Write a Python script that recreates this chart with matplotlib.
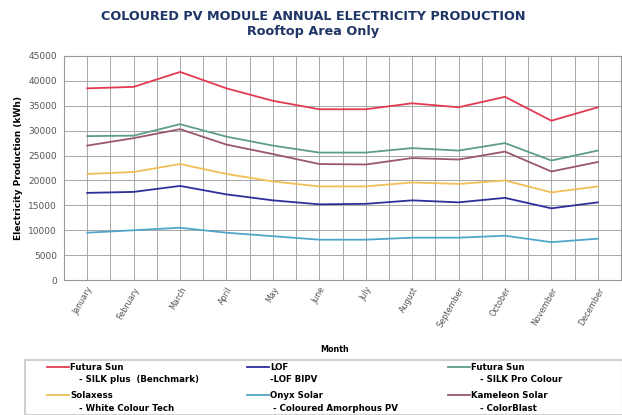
import matplotlib.pyplot as plt
from matplotlib.patches import Rectangle
from matplotlib.lines import Line2D
from matplotlib.ticker import MultipleLocator

months = ['January', 'February', 'March', 'April', 'May', 'June', 'July',
          'August', 'September', 'October', 'November', 'December']

futura_silk_plus = [38500, 38800, 41800, 38500, 36000, 34300, 34300, 35500, 34700, 36800, 32000, 34700]
lof_bipv = [17500, 17700, 18900, 17200, 16000, 15200, 15300, 16000, 15600, 16500, 14400, 15600]
futura_silk_pro = [28900, 29000, 31300, 28800, 27000, 25600, 25600, 26500, 26000, 27500, 24000, 26000]
solaxess = [21300, 21700, 23300, 21300, 19800, 18800, 18800, 19600, 19300, 20000, 17600, 18800]
onyx = [9500, 10000, 10500, 9500, 8800, 8100, 8100, 8500, 8500, 8900, 7600, 8300]
kameleon = [27000, 28500, 30300, 27200, 25300, 23300, 23200, 24500, 24200, 25800, 21800, 23700]

# legend order follows the reference (row by row, 3 columns)
series = [
    (futura_silk_plus, '#e23a52', 'Futura Sun', '   - SILK plus  (Benchmark)'),
    (lof_bipv, '#2f2f9c', 'LOF', '-LOF BIPV'),
    (futura_silk_pro, '#5e9c8c', 'Futura Sun', '   - SILK Pro Colour'),
    (solaxess, '#f0bf55', 'Solaxess', '   - White Colour Tech'),
    (onyx, '#4fa6c9', 'Onyx Solar', ' - Coloured Amorphous PV'),
    (kameleon, '#9a5868', 'Kameleon Solar', '   - ColorBlast'),
]

W, H = 622, 415
fig = plt.figure(figsize=(W / 100, H / 100), dpi=100)
ax = fig.add_axes([64 / W, 1 - 280 / H, (621 - 64) / W, (280 - 56) / H])

x = list(range(len(months)))
for vals, col, l1, l2 in series:
    ax.plot(x, vals, color=col, lw=1.3, zorder=3)

ax.set_xlim(-0.5, 11.5)
ax.set_ylim(0, 45000)
ax.yaxis.set_major_locator(MultipleLocator(5000))
ax.set_xticks(x)
ax.set_xticks([i + 0.5 for i in range(-1, 12)], minor=True)
ax.set_xticklabels(months, rotation=60, ha='right', rotation_mode='anchor',
                   fontsize=5.8, color='#555555')
ax.tick_params(axis='y', labelsize=6.5, colors='#555555', length=0, pad=5)
ax.tick_params(axis='x', which='both', length=0, pad=4)
ax.grid(True, which='major', color='#a8a8a8', lw=0.7, zorder=0)
ax.grid(True, which='minor', axis='x', color='#a8a8a8', lw=0.7, zorder=0)
for s in ax.spines.values():
    s.set_color('#999999')
    s.set_linewidth(0.8)

ax.set_ylabel('Electricity Production (kWh)', fontsize=6.5, fontweight='bold', labelpad=4)
fig.text(335 / W, 1 - 349 / H, 'Month', ha='center', va='center',
         fontsize=5.8, fontweight='bold')

fig.text(313 / W, 1 - 17 / H, 'COLOURED PV MODULE ANNUAL ELECTRICITY PRODUCTION',
         ha='center', va='center', fontsize=9.2, fontweight='bold', color='#1f3566')
fig.text(313 / W, 1 - 31 / H, 'Rooftop Area Only',
         ha='center', va='center', fontsize=9.2, fontweight='bold', color='#1f3566')

# legend box drawn by hand so the handle sits on the first label line
fig.patches.append(Rectangle((25 / W, 0), (W - 24) / W, (H - 360) / H,
                             transform=fig.transFigure, facecolor='white',
                             edgecolor='#d0d0d0', lw=1.5))
col_x = [47, 247, 448]
row_y = [367, 395]
for i, (vals, col, l1, l2) in enumerate(series):
    cx = col_x[i % 3]
    ry = row_y[i // 3]
    fig.lines.append(Line2D([cx / W, (cx + 22) / W], [1 - ry / H, 1 - ry / H],
                            transform=fig.transFigure, color=col, lw=1.3))
    fig.text((cx + 23) / W, 1 - ry / H, l1, ha='left', va='center',
             fontsize=6.2, fontweight='bold')
    fig.text((cx + 23) / W, 1 - (ry + 13) / H, l2, ha='left', va='center',
             fontsize=6.2, fontweight='bold')

fig.savefig('out.png', dpi=100)
